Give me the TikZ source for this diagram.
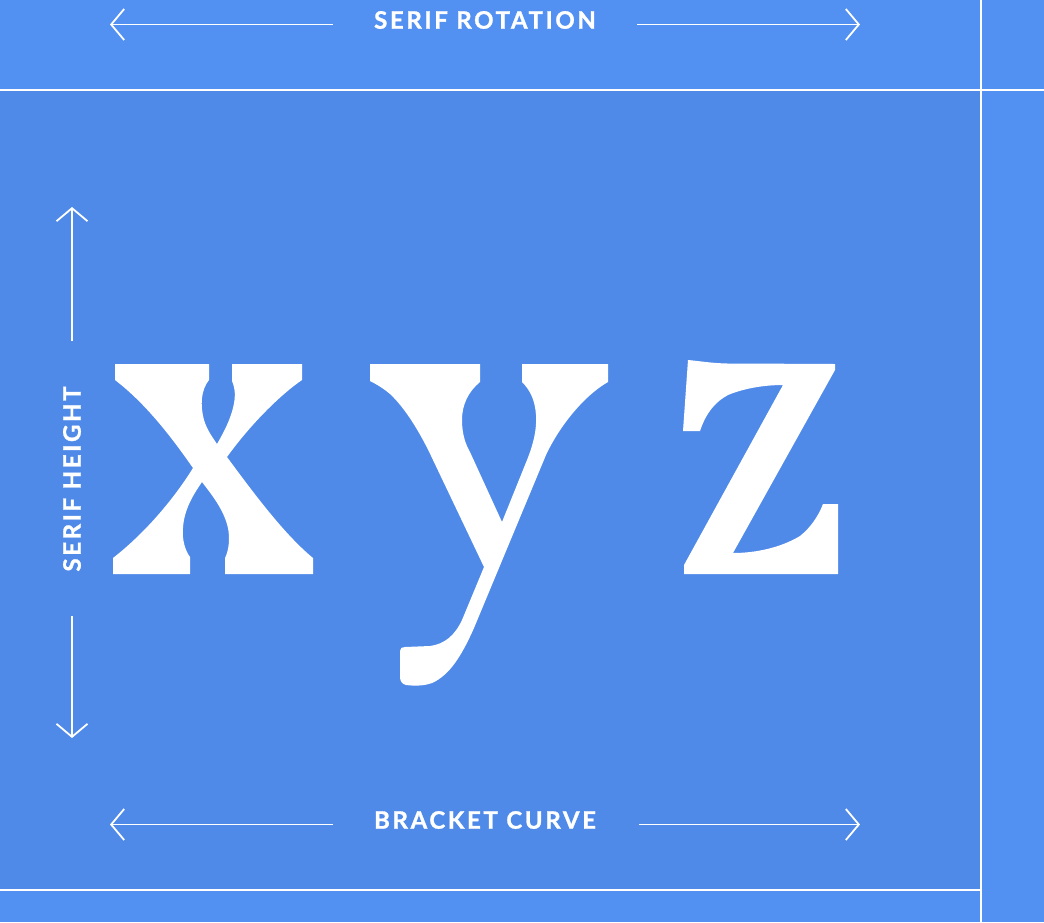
\documentclass[tikz,border=0pt]{standalone}
\usepackage{fontspec}
\setmainfont{Lato}
\newfontfamily\lblfont[LetterSpace=11, BoldFeatures={FakeBold=1.2}]{Lato}
\usetikzlibrary{arrows.meta}
\definecolor{bandblue}{HTML}{5290F2}
\definecolor{mainblue}{HTML}{4F8AE9}
\tikzset{
  sep/.style={draw=white, line width=2.2pt},
  dimline/.style={draw=white, line width=1.8pt, -{Straight Barb[length=13pt,width=31pt,line width=1.8pt]}},
  lbl/.style={text=white, font=\lblfont\bfseries\fontsize{24}{24}\selectfont, inner sep=0pt},
  glyph/.style={fill=white}
}
\begin{document}
\begin{tikzpicture}[x=1pt,y=-1pt]
\useasboundingbox (0,0) rectangle (1044,922);
\fill[bandblue] (0,0) rectangle (1044,922);
\fill[mainblue] (0,90) rectangle (981,890);
\draw[sep] (0,90) -- (1044,90);
\draw[sep] (0,890) -- (981,890);
\draw[sep] (981,0) -- (981,922);

% labels
\node[lbl] (toplbl) at (485,20) {SERIF ROTATION};
\node[lbl] (botlbl) at (485,820) {BRACKET CURVE};
\node[lbl, rotate=90] (sidelbl) at (72,479) {SERIF HEIGHT};

% dimension arrows
\coordinate (tlTip) at (110,24.5);
\coordinate (tlEnd) at (333,24.5);
\coordinate (trEnd) at (637,24.5);
\coordinate (trTip) at (860,24.5);
\coordinate (blTip) at (110,824.5);
\coordinate (blEnd) at (333,824.5);
\coordinate (brEnd) at (639,824.5);
\coordinate (brTip) at (860,824.5);
\coordinate (vtTip) at (72,207);
\coordinate (vtEnd) at (72,341);
\coordinate (vbEnd) at (72,616);
\coordinate (vbTip) at (72,738);
\draw[dimline] (tlEnd) -- (tlTip);
\draw[dimline] (trEnd) -- (trTip);
\draw[dimline] (blEnd) -- (blTip);
\draw[dimline] (brEnd) -- (brTip);
\draw[dimline] (vtEnd) -- (vtTip);
\draw[dimline] (vbEnd) -- (vbTip);

% letter x
\fill[glyph] (115,364) -- (209,364) -- (209,380)
  .. controls (201,390) and (200,405) .. (204,420)
  .. controls (207,430) and (213,438) .. (217,444)
  .. controls (224,432) and (230,420) .. (233,408)
  .. controls (236,396) and (235,388) .. (232,381)
  -- (232,364) -- (302,364) -- (302,380)
  .. controls (280,395) and (250,425) .. (227,457)
  .. controls (255,495) and (285,535) .. (313,558)
  -- (313,574) -- (225,574) -- (225,558)
  .. controls (229,550) and (230,538) .. (228,528)
  .. controls (224,510) and (212,495) .. (202,482)
  .. controls (193,495) and (184,510) .. (183,528)
  .. controls (182,540) and (185,550) .. (190,557)
  -- (190,574) -- (113,574) -- (113,558)
  .. controls (140,537) and (170,505) .. (193,468)
  .. controls (170,435) and (145,403) .. (115,380)
  -- cycle;

% letter y
\fill[glyph] (370,364) -- (480,364) -- (480,382)
  .. controls (468,392) and (462,405) .. (462,420)
  .. controls (462,435) and (466,445) .. (470,452)
  -- (502,522) -- (527,460)
  .. controls (533,445) and (537,430) .. (536,415)
  .. controls (535,400) and (530,390) .. (522,382)
  -- (522,364) -- (608,364) -- (608,382)
  .. controls (585,395) and (560,425) .. (546,455)
  -- (474,628)
  .. controls (462,655) and (450,675) .. (432,683)
  .. controls (424,686) and (414,686) .. (406,685)
  .. controls (402,684) and (400,681) .. (400,677)
  -- (400,651)
  .. controls (400,648) and (402,647) .. (405,647)
  -- (430,646)
  .. controls (445,644) and (455,635) .. (462,620)
  -- (484,567) -- (433,460)
  .. controls (420,432) and (405,408) .. (390,394)
  .. controls (383,388) and (376,384) .. (370,381)
  -- cycle;

% letter z
\fill[glyph] (688,360)
  .. controls (700,361) and (715,364) .. (737,363.5)
  -- (835,364) -- (835,370) -- (733,553)
  .. controls (755,553) and (780,548) .. (800,536)
  .. controls (810,528) and (818,517) .. (823,504)
  -- (838,504) -- (838,574) -- (684,574) -- (684,565) -- (783,385)
  .. controls (765,385) and (745,388) .. (728,395)
  .. controls (715,402) and (706,413) .. (700,431)
  -- (683,431) -- cycle;
\end{tikzpicture}
\end{document}
